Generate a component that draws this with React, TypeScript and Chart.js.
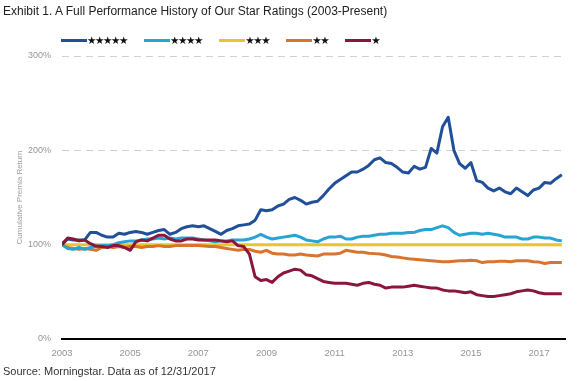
import React, { useEffect, useRef } from "react";
import { Chart, registerables } from "chart.js";

Chart.register(...registerables);

const months = [
  "2003-01","2003-03","2003-05","2003-07","2003-09","2003-11",
  "2004-01","2004-03","2004-05","2004-07","2004-09","2004-11",
  "2005-01","2005-03","2005-05","2005-07","2005-09","2005-11",
  "2006-01","2006-03","2006-05","2006-07","2006-09","2006-11",
  "2007-01","2007-03","2007-05","2007-07","2007-09","2007-11",
  "2008-01","2008-03","2008-05","2008-07","2008-09","2008-11",
  "2009-01","2009-03","2009-05","2009-07","2009-09","2009-11",
  "2010-01","2010-03","2010-05","2010-07","2010-09","2010-11",
  "2011-01","2011-03","2011-05","2011-07","2011-09","2011-11",
  "2012-01","2012-03","2012-05","2012-07","2012-09","2012-11",
  "2013-01","2013-03","2013-05","2013-07","2013-09","2013-11",
  "2014-01","2014-03","2014-05","2014-07","2014-09","2014-11",
  "2015-01","2015-03","2015-05","2015-07","2015-09","2015-11",
  "2016-01","2016-03","2016-05","2016-07","2016-09","2016-11",
  "2017-01","2017-03","2017-05","2017-07","2017-09",
];

const fiveStar = [
  101,106,105,105,105,113, 113,110,108,108,112,111,
  113,114,113,111,113,115, 116,111,113,117,119,120,
  119,120,117,114,111,115, 117,120,121,122,126,137,
  136,137,141,143,148,150, 147,143,145,146,152,159,
  165,169,173,177,177,180, 184,190,192,187,186,182,
  177,176,183,180,182,202, 197,225,235,200,186,181,
  187,168,166,160,157,160, 156,154,160,156,152,158,
  160,166,165,170,174,
];

const fourStar = [
  100,96,95,97,95,97, 98,99,99,100,102,103,
  104,104,105,106,106,107, 106,107,106,107,107,107,
  106,105,104,103,104,104, 105,105,105,106,108,111,
  108,106,107,108,109,110, 108,105,104,103,106,108,
  108,109,106,106,108,109, 109,110,111,111,112,112,
  112,113,113,115,116,116, 118,120,118,113,110,111,
  112,112,111,112,111,110, 108,108,108,106,106,108,
  108,107,107,105,104,
];

const threeStar = [
  100,100,100,100,100,100, 100,100,100,100,100,100,
  100,100,100,100,100,100, 100,100,100,100,100,100,
  100,100,100,100,100,100, 100,100,100,100,100,100,
  100,100,100,100,100,100, 100,100,100,100,100,100,
  100,100,100,100,100,100, 100,100,100,100,100,100,
  100,100,100,100,100,100, 100,100,100,100,100,100,
  100,100,100,100,100,100, 100,100,100,100,100,100,
  100,100,100,100,100,
];

const twoStar = [
  100,97,96,95,96,95, 94,97,98,97,98,97,
  98,98,97,98,98,99, 98,98,99,99,99,99,
  99,98.5,98,98,97,96, 95,94,95,95,93,92,
  94,91,90,90,89,89, 90,89,88.5,88,90,90,
  90,91,94,93,92,92, 91,90.5,90,89,87.5,87,
  86,85,84.5,84,83.5,83, 82.5,82,82,82.5,83,83,
  83.5,83,81,82,82,82.5, 82.5,82,83,83,83,82,
  81.5,80,81,81,81,
];

const oneStar = [
  100,107,106,104,105,101, 98.5,98,97,99,99,97,
  94,103,105,104,107,110, 110,106,104,104,106,106,
  105,105,105,105,104,103, 104,99,98,90,66,62,
  63,60,66,70,72,74, 73,68,67,64,61,60,
  59,59,59,58,57,59, 60,58,57,54,55,55,
  55,56,57,56,55,54, 54,52,51,51,50,49,
  50,47,46,45,45,46, 47,48,50,51,52,51,
  49,48,48,48,48,
];

const seriesLabels = ["★★★★★", "★★★★", "★★★", "★★", "★"];
const seriesColors = ["#21509a", "#28a4d2", "#e8c430", "#d8742e", "#8a173b"];
const drawOrder = [1, 2, 4, 3, 0];
const xTickYears = [2003, 2005, 2007, 2009, 2011, 2013, 2015, 2017];
const yTickValues = [0, 100, 200, 300];

const NARROW = "'Liberation Sans Narrow', 'Arial Narrow', 'Liberation Sans', Arial, sans-serif";
const SANS = "'Liberation Sans', Arial, sans-serif";

export default function App() {
  const ref = useRef<HTMLCanvasElement>(null);

  useEffect(() => {
    const xs = months.map((m) => {
      const [yy, mm] = m.split("-").map(Number);
      return yy + (mm - 1) / 12;
    });
    const series = [fiveStar, fourStar, threeStar, twoStar, oneStar];
    const chart = new Chart(ref.current!, {
      type: "line",
      data: {
        datasets: series.map((vals, i) => ({
          label: seriesLabels[i],
          data: vals.map((v, j) => ({ x: xs[j], y: v })),
          borderColor: seriesColors[i],
          backgroundColor: seriesColors[i],
          borderWidth: 3,
          pointRadius: 0,
          fill: false,
          tension: 0,
          order: drawOrder[i],
          borderJoinStyle: "round" as const,
        })),
      },
      options: {
        responsive: false,
        animation: false,
        devicePixelRatio: 1,
        layout: { padding: { top: 56, right: 12, bottom: 0, left: 0 } },
        plugins: {
          legend: { display: false },
          tooltip: { enabled: false },
          title: { display: false },
        },
        scales: {
          x: {
            type: "linear",
            min: 2003,
            max: 2017.76,
            afterBuildTicks: (s: any) => {
              s.ticks = xTickYears.map((v) => ({ value: v }));
            },
            afterFit: (s: any) => {
              s.height = 42;
            },
            grid: { display: false, drawTicks: false },
            border: { display: true, color: "#000", width: 2 },
            ticks: {
              autoSkip: false,
              maxRotation: 0,
              padding: 9,
              color: "#959595",
              font: { family: NARROW, size: 9.5 },
              callback: (v: any) => String(v),
            },
          },
          y: {
            min: 0,
            max: 300,
            afterBuildTicks: (s: any) => {
              s.ticks = yTickValues.map((v) => ({ value: v }));
            },
            afterFit: (s: any) => {
              s.width = 62;
            },
            grid: {
              color: (ctx: any) => (ctx.tick && ctx.tick.value === 0 ? "rgba(0,0,0,0)" : "#d0d0d0"),
              lineWidth: 1,
              drawTicks: false,
            },
            border: { display: false, dash: [7, 5] },
            ticks: {
              padding: 11,
              color: "#959595",
              font: { family: NARROW, size: 9 },
              callback: (v: any) => v + "%",
            },
            title: {
              display: true,
              text: "Cumulative Premia Return",
              color: "#a0a0a0",
              font: { family: NARROW, size: 8 },
              padding: { top: 15, bottom: 0 },
            },
          },
        },
      },
    });
    return () => chart.destroy();
  }, []);

  return (
    <div style={{ position: "fixed", left: 0, top: 0, width: 577, height: 381, background: "#fff", overflow: "hidden" }}>
      <canvas ref={ref} width={577} height={381} style={{ position: "absolute", left: 0, top: 0, width: 577, height: 381 }} />
      <div
        style={{
          position: "absolute",
          left: 3,
          top: 5,
          fontFamily: SANS,
          fontSize: 12,
          lineHeight: "13px",
          color: "#222",
          whiteSpace: "nowrap",
        }}
      >
        Exhibit 1. A Full Performance History of Our Star Ratings (2003-Present)
      </div>
      <div
        style={{
          position: "absolute",
          left: 61,
          top: 34,
          height: 12,
          display: "flex",
          alignItems: "center",
          whiteSpace: "nowrap",
        }}
      >
        {seriesLabels.map((lab, i) => (
          <div key={i} style={{ display: "flex", alignItems: "center", marginRight: 17 }}>
            <span style={{ display: "inline-block", width: 26, height: 3, background: seriesColors[i] }} />
            <span
              style={{
                fontFamily: "'DejaVu Sans', sans-serif",
                fontSize: 10.5,
                letterSpacing: "-1.4px",
                lineHeight: "12px",
                color: "#111",
              }}
            >
              {lab}
            </span>
          </div>
        ))}
      </div>
      <div
        style={{
          position: "absolute",
          left: 3,
          top: 366,
          fontFamily: NARROW,
          fontSize: 11,
          lineHeight: "11px",
          color: "#333",
          whiteSpace: "nowrap",
        }}
      >
        Source: Morningstar. Data as of 12/31/2017
      </div>
    </div>
  );
}
